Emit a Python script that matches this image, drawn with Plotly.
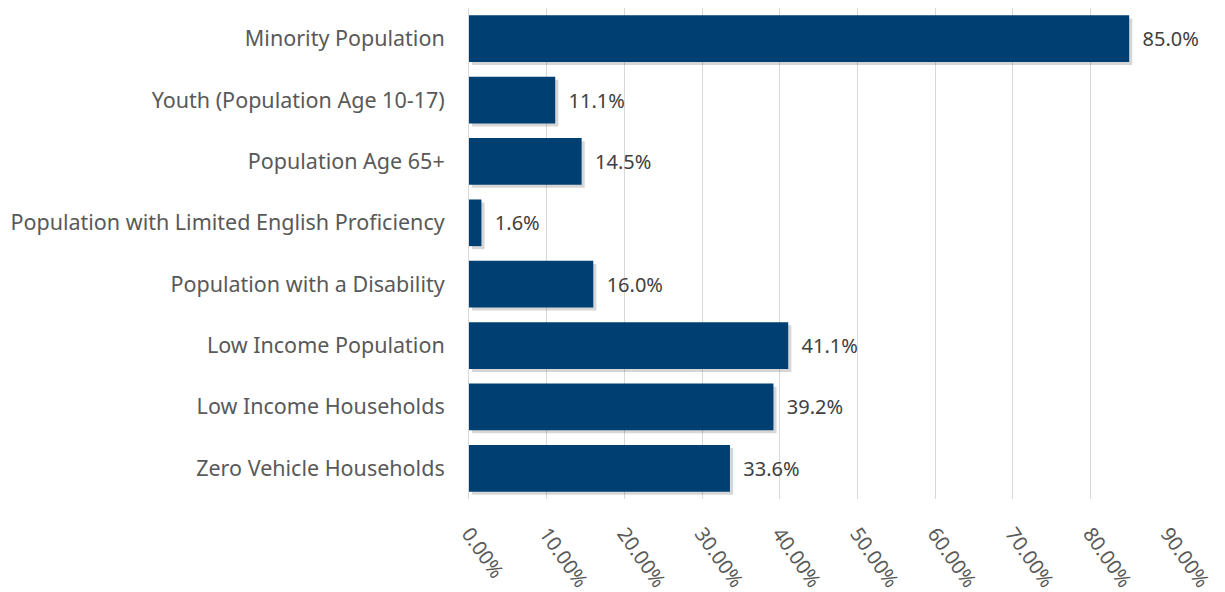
import plotly.graph_objects as go

categories = [
    "Minority Population",
    "Youth (Population Age 10-17)",
    "Population Age 65+",
    "Population with Limited English Proficiency",
    "Population with a Disability",
    "Low Income Population",
    "Low Income Households",
    "Zero Vehicle Households",
]
values = [0.850, 0.111, 0.145, 0.016, 0.160, 0.411, 0.392, 0.336]
tick_vals = [0, 0.1, 0.2, 0.3, 0.4, 0.5, 0.6, 0.7, 0.8, 0.9]

BAR = "#003f72"
FONT = "Noto Sans, sans-serif"

fig = go.Figure()
# soft drop shadow
fig.add_trace(go.Bar(
    y=categories, x=values, orientation="h",
    marker=dict(color="rgba(0,0,0,0.16)", line=dict(width=0)),
    width=0.76, offset=-0.33, base=0.004,
    hoverinfo="skip", showlegend=False,
))
fig.add_trace(go.Bar(
    y=categories, x=values, orientation="h",
    marker=dict(color=BAR, line=dict(width=0)),
    width=0.76, offset=-0.38,
    texttemplate="  %{x:.1%}", textposition="outside",
    textfont=dict(size=20, color="#404040", family=FONT),
    cliponaxis=False, showlegend=False,
))
fig.update_layout(
    barmode="overlay",
    width=1217, height=584,
    margin=dict(l=461, r=57, t=0, b=93, autoexpand=False),
    paper_bgcolor="white", plot_bgcolor="white",
    font=dict(family=FONT),
    xaxis=dict(
        range=[0, 0.9], tickvals=tick_vals, tickformat=".2%",
        tickangle=55, showgrid=True, gridcolor="#d9d9d9", gridwidth=1,
        zeroline=False, showline=False, automargin=False,
        tickfont=dict(size=20, color="#595959", family=FONT),
        ticklabelstandoff=18,
    ),
    yaxis=dict(
        autorange="reversed", showgrid=False, zeroline=False,
        showline=True, linecolor="#d9d9d9", automargin=False,
        tickfont=dict(size=21.5, color="#595959", family=FONT),
        ticklabelstandoff=19,
    ),
)
fig.write_html("out.html")
